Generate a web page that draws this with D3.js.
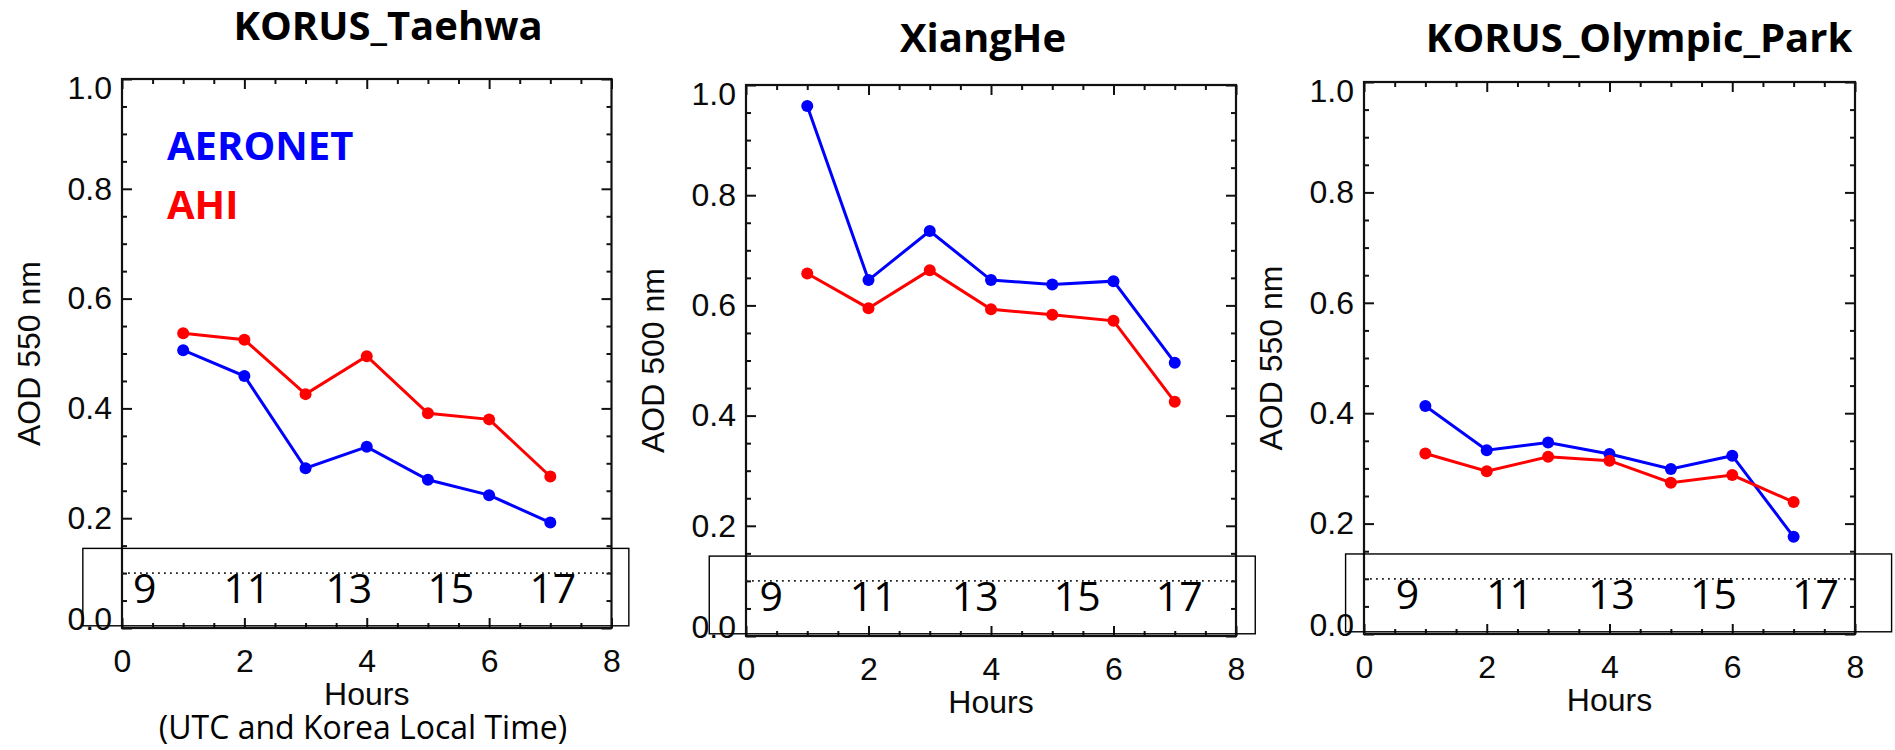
<!DOCTYPE html>
<html>
<head>
<meta charset="utf-8">
<script src="https://cdn.jsdelivr.net/npm/d3@7"></script>
<style>
	body { margin: 0; background: #fff; }
	svg { display: block; background: #fff; }
	.idl { font-family: "Liberation Sans", Arial, sans-serif; font-size: 32px; fill: #0a0a0a; }
	.cal { font-family: "Open Sans", sans-serif; fill: #000; }
</style>
</head>
<body>
<svg width="1895" height="750"></svg>
<script>
// x values: hours after start, same for every site
const hours = [1, 2, 3, 4, 5, 6, 7];
const sites = ["KORUS_Taehwa", "XiangHe", "KORUS_Olympic_Park"];
const yTitles = ["AOD 550 nm", "AOD 500 nm", "AOD 550 nm"];

const aeronetTaehwa = [0.506, 0.459, 0.291, 0.330, 0.270, 0.242, 0.192];
const ahiTaehwa = [0.537, 0.525, 0.426, 0.495, 0.391, 0.380, 0.276];
const aeronetXiangHe = [0.962, 0.646, 0.735, 0.646, 0.638, 0.644, 0.496];
const ahiXiangHe = [0.658, 0.595, 0.664, 0.593, 0.583, 0.572, 0.425];
const aeronetOlympic = [0.413, 0.333, 0.347, 0.326, 0.299, 0.323, 0.176];
const ahiOlympic = [0.327, 0.295, 0.321, 0.314, 0.274, 0.288, 0.239];

const localHours = [9, 11, 13, 15, 17];
const xTicks = [0, 2, 4, 6, 8];
const yTicks = [0, 0.2, 0.4, 0.6, 0.8, 1.0];

const aeronet = [aeronetTaehwa, aeronetXiangHe, aeronetOlympic];
const ahi = [ahiTaehwa, ahiXiangHe, ahiOlympic];

// where each panel sits on the page
const layout = [
	{ left: 122, right: 611.5, top: 79, bottom: 628, titleX: 388, titleY: 40, boxStart: -0.64 },
	{ left: 746, right: 1236, top: 85, bottom: 636, titleX: 983, titleY: 52, boxStart: -0.6 },
	{ left: 1364, right: 1855, top: 82, bottom: 634, titleX: 1639, titleY: 52, boxStart: -0.3 },
];

const svg = d3.select("svg");

const styleAxis = (g) => {
	g.select(".domain").remove();
	g.attr("font-size", null).attr("font-family", null);
	g.selectAll(".tick line").attr("stroke", "#111").attr("stroke-width", 2);
	g.selectAll(".tick text").attr("class", "idl").attr("fill", null);
};

function drawPanel(i) {
	const L = layout[i];
	const x = d3.scaleLinear().domain([0, 8]).range([L.left, L.right]);
	const y = d3.scaleLinear().domain([0, 1]).range([L.bottom, L.top]);
	const g = svg.append("g").attr("class", "panel");

	const xMinor = d3.range(0, 8.01, 0.5).filter((d) => d % 2 !== 0);
	const yMinor = d3.range(0, 1.001, 0.05).filter((d) => Math.round(d * 100) % 20 !== 0);

	// bottom axis, ticks point inward
	g.append("g")
		.attr("transform", "translate(0," + L.bottom + ")")
		.call(d3.axisBottom(x).tickValues(xTicks).tickSize(-10).tickSizeOuter(0).tickPadding(21).tickFormat(d3.format("d")))
		.call(styleAxis);
	g.append("g")
		.attr("transform", "translate(0," + L.bottom + ")")
		.call(d3.axisBottom(x).tickValues(xMinor).tickSize(-5).tickSizeOuter(0).tickFormat(""))
		.call(styleAxis);
	// top axis
	g.append("g")
		.attr("transform", "translate(0," + L.top + ")")
		.call(d3.axisTop(x).tickValues(xTicks).tickSize(-10).tickSizeOuter(0).tickFormat(""))
		.call(styleAxis);
	g.append("g")
		.attr("transform", "translate(0," + L.top + ")")
		.call(d3.axisTop(x).tickValues(xMinor).tickSize(-5).tickSizeOuter(0).tickFormat(""))
		.call(styleAxis);
	// left axis
	g.append("g")
		.attr("transform", "translate(" + L.left + ",0)")
		.call(d3.axisLeft(y).tickValues(yTicks).tickSize(-10).tickSizeOuter(0).tickPadding(10).tickFormat(d3.format(".1f")))
		.call(styleAxis)
		.call((a) => a.selectAll(".tick text").attr("y", (d) => (d === 1 ? 9 : d === 0 ? -9 : 0)));
	g.append("g")
		.attr("transform", "translate(" + L.left + ",0)")
		.call(d3.axisLeft(y).tickValues(yMinor).tickSize(-5).tickSizeOuter(0).tickFormat(""))
		.call(styleAxis);
	// right axis
	g.append("g")
		.attr("transform", "translate(" + L.right + ",0)")
		.call(d3.axisRight(y).tickValues(yTicks).tickSize(-10).tickSizeOuter(0).tickFormat(""))
		.call(styleAxis);
	g.append("g")
		.attr("transform", "translate(" + L.right + ",0)")
		.call(d3.axisRight(y).tickValues(yMinor).tickSize(-5).tickSizeOuter(0).tickFormat(""))
		.call(styleAxis);

	// frame
	g.append("rect")
		.attr("x", x(0))
		.attr("y", y(1))
		.attr("width", x(8) - x(0))
		.attr("height", y(0) - y(1))
		.attr("fill", "none")
		.attr("stroke", "#111")
		.attr("stroke-width", 2.2);

	// dotted reference line at 0.1
	g.append("line")
		.attr("x1", x(0))
		.attr("x2", x(8))
		.attr("y1", y(0.1))
		.attr("y2", y(0.1))
		.attr("stroke", "#222")
		.attr("stroke-width", 1.8)
		.attr("stroke-dasharray", "1.8 4.2");

	// series
	const line = d3.line().x((d, j) => x(hours[j])).y((d) => y(d));
	[
		{ values: aeronet[i], colour: "#0000ff" },
		{ values: ahi[i], colour: "#ff0000" },
	].forEach((s) => {
		g.append("path")
			.attr("d", line(s.values))
			.attr("fill", "none")
			.attr("stroke", s.colour)
			.attr("stroke-width", 3);
		g.selectAll(null)
			.data(s.values)
			.enter()
			.append("circle")
			.attr("cx", (d, j) => x(hours[j]))
			.attr("cy", (d) => y(d))
			.attr("r", 6)
			.attr("fill", s.colour);
	});

	// local time overlay box
	const boxLeft = x(L.boxStart);
	g.append("rect")
		.attr("x", boxLeft)
		.attr("y", y(0.145))
		.attr("width", 546)
		.attr("height", y(0.004) - y(0.145))
		.attr("fill", "none")
		.attr("stroke", "#000")
		.attr("stroke-width", 1.4);
	const lx = d3.scaleLinear().domain([9, 17]).range([boxLeft + 62, boxLeft + 470]);
	g.selectAll(null)
		.data(localHours)
		.enter()
		.append("text")
		.attr("class", "cal")
		.attr("x", (d) => lx(d))
		.attr("y", L.bottom - 25)
		.attr("text-anchor", "middle")
		.attr("font-size", "41px")
		.text((d) => d);

	// titles
	g.append("text")
		.attr("class", "cal")
		.attr("x", L.titleX)
		.attr("y", L.titleY)
		.attr("text-anchor", "middle")
		.attr("font-size", "40px")
		.attr("font-weight", "bold")
		.text(sites[i]);
	g.append("text")
		.attr("class", "idl")
		.attr("x", (L.left + L.right) / 2)
		.attr("y", L.bottom + 77)
		.attr("text-anchor", "middle")
		.text("Hours");
	g.append("text")
		.attr("class", "idl")
		.attr("transform", "translate(" + (L.left - 82) + "," + (L.top + L.bottom) / 2 + ") rotate(-90)")
		.attr("text-anchor", "middle")
		.text(yTitles[i]);

	if (i === 0) {
		g.append("text")
			.attr("class", "cal")
			.attr("x", L.left + 45)
			.attr("y", L.top + 81)
			.attr("font-size", "40px")
			.attr("font-weight", "bold")
			.style("fill", "#0000ff")
			.text("AERONET");
		g.append("text")
			.attr("class", "cal")
			.attr("x", L.left + 45)
			.attr("y", L.top + 140)
			.attr("font-size", "40px")
			.attr("font-weight", "bold")
			.style("fill", "#ff0000")
			.text("AHI");
		g.append("text")
			.attr("class", "cal")
			.attr("x", 363)
			.attr("y", 739)
			.attr("text-anchor", "middle")
			.attr("font-size", "32px")
			.text("(UTC and Korea Local Time)");
	}
}

sites.forEach((s, i) => drawPanel(i));
</script>
</body>
</html>
